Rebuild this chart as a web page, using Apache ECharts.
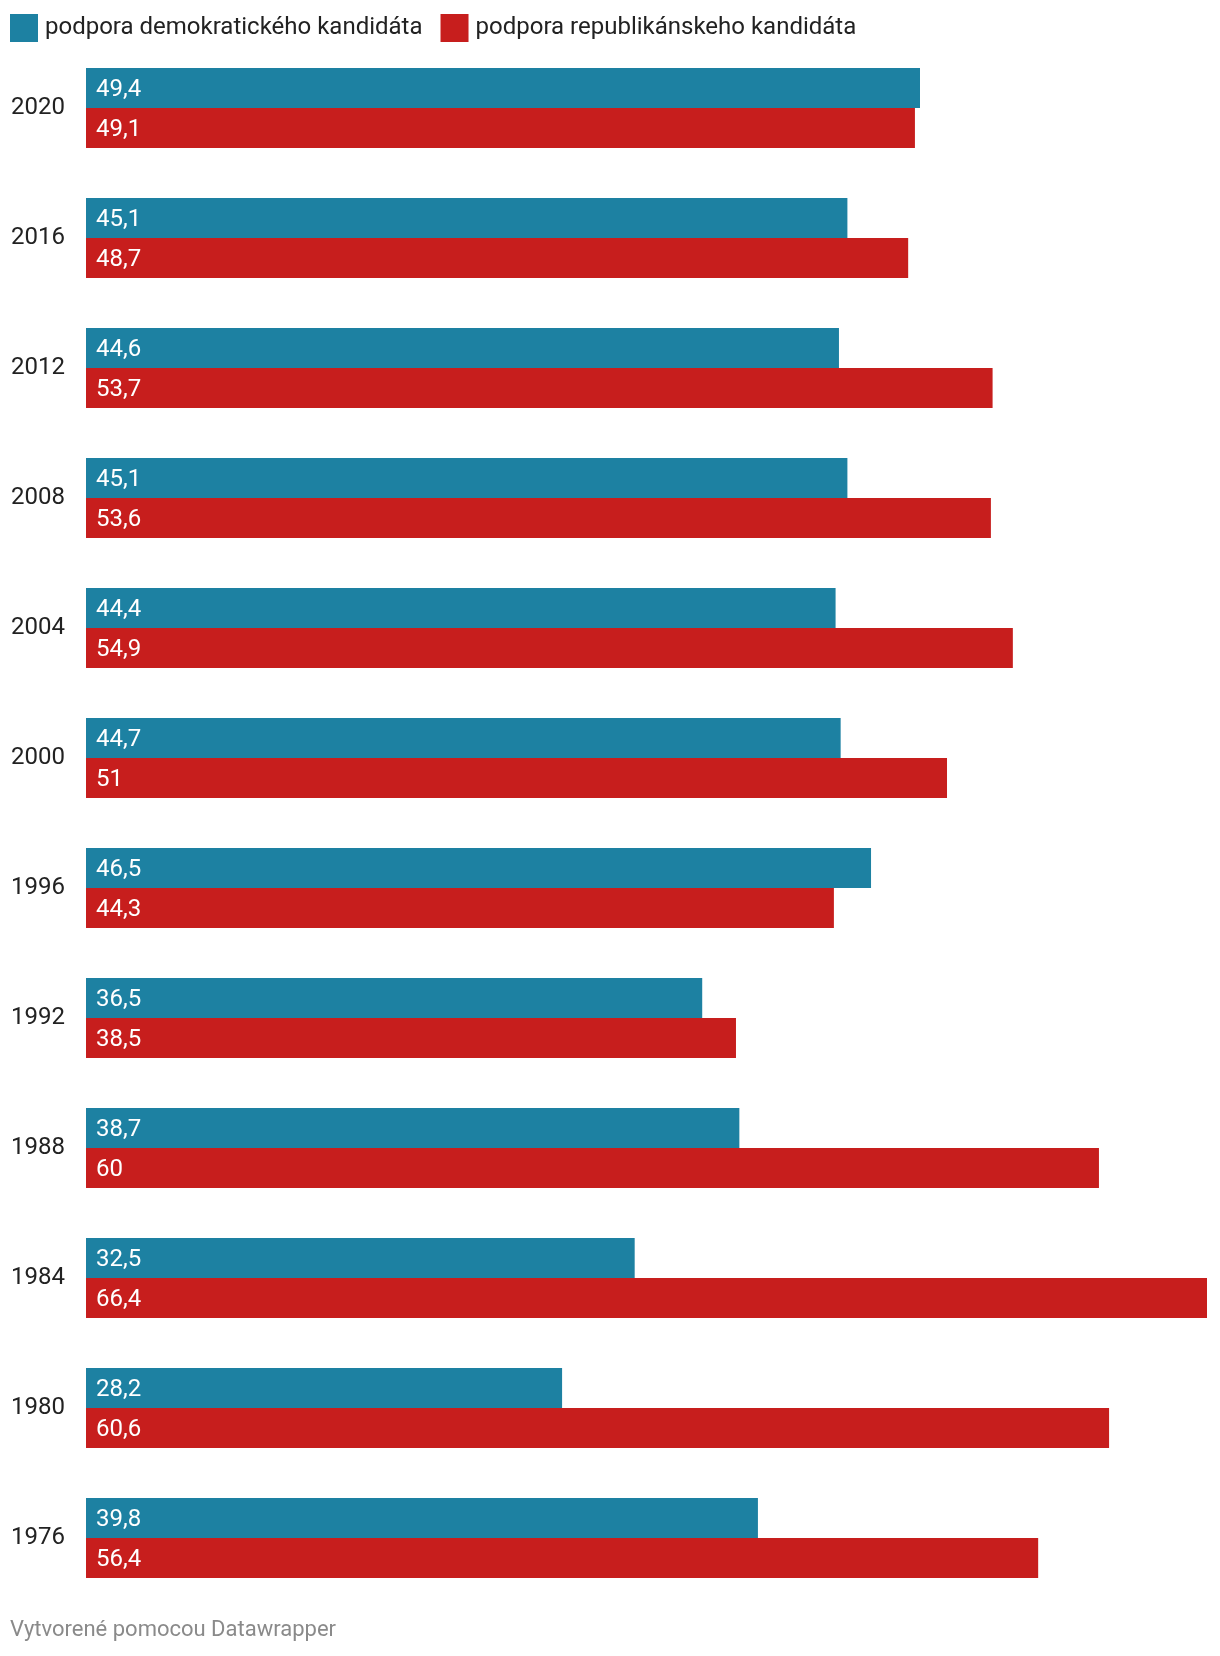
<!DOCTYPE html>
<html>
<head>
<meta charset="utf-8">
<script src="https://cdn.jsdelivr.net/npm/echarts@6/dist/echarts.min.js"></script>
<style>
html,body{margin:0;padding:0;background:#fff;}
#chart{width:1220px;height:1656px;}
</style>
</head>
<body>
<div id="chart"></div>
<script>
const years = ['2020','2016','2012','2008','2004','2000','1996','1992','1988','1984','1980','1976'];
const demValues = [49.4, 45.1, 44.6, 45.1, 44.4, 44.7, 46.5, 36.5, 38.7, 32.5, 28.2, 39.8];
const repValues = [49.1, 48.7, 53.7, 53.6, 54.9, 51, 44.3, 38.5, 60, 66.4, 60.6, 56.4];
const seriesNames = ['podpora demokratického kandidáta', 'podpora republikánskeho kandidáta'];
const footerText = 'Vytvorené pomocou Datawrapper';

const FONT = 'Roboto, "Noto Sans", sans-serif';
const chart = echarts.init(document.getElementById('chart'), null, {renderer: 'canvas'});
const fmt = p => String(p.value).replace('.', ',');
const labelCfg = {
  show: true, position: 'insideLeft', distance: 10, offset: [0, 2],
  color: '#ffffff', fontSize: 24, fontFamily: FONT, formatter: fmt
};
chart.setOption({
  animation: false,
  backgroundColor: '#ffffff',
  textStyle: {fontFamily: FONT},
  legend: {
    left: 10, top: 14, itemWidth: 28, itemHeight: 28, itemGap: 18,
    icon: 'rect', padding: 0,
    textStyle: {fontSize: 24, color: '#222222', fontFamily: FONT, padding: [0, 0, 0, 2]},
    data: seriesNames
  },
  graphic: [{
    type: 'text', left: 10, top: 1619,
    style: {text: footerText, fontSize: 22, fill: '#8a8a8a', fontFamily: FONT}
  }],
  grid: {left: 86, right: 13, top: 43, height: 1560, containLabel: false},
  xAxis: {type: 'value', min: 0, max: 66.4, show: false, splitLine: {show: false}},
  yAxis: {
    type: 'category', data: years, inverse: true,
    axisLine: {show: false}, axisTick: {show: false},
    axisLabel: {margin: 21, fontSize: 24, color: '#222222', fontFamily: FONT, padding: [6, 0, 0, 0]}
  },
  series: [
    {name: seriesNames[0], type: 'bar', data: demValues, barWidth: 40, barGap: '0%',
     itemStyle: {color: '#1d81a2'}, label: labelCfg},
    {name: seriesNames[1], type: 'bar', data: repValues, barWidth: 40, barGap: '0%',
     itemStyle: {color: '#c71e1d'}, label: labelCfg}
  ]
});
</script>
</body>
</html>
